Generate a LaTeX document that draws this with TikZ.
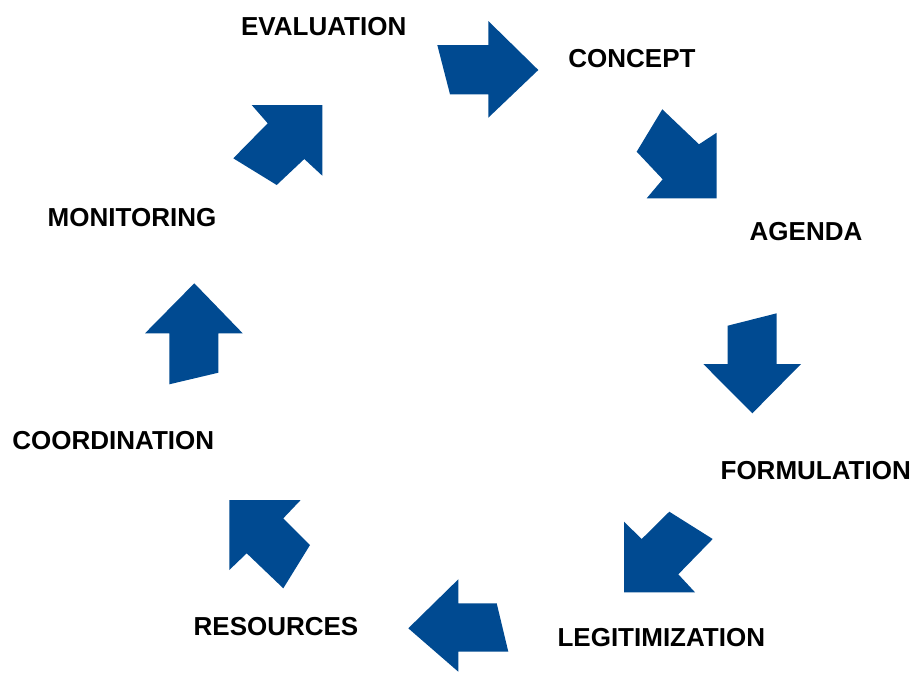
\documentclass[tikz,border=0pt]{standalone}
\usepackage{fontspec}
\setmainfont{Liberation Sans}
\definecolor{cycleblue}{RGB}{0,74,145}
\begin{document}
\begin{tikzpicture}[x=1pt,y=-1pt,
  stage/.style={font=\fontsize{26}{30}\selectfont\bfseries, text=black, inner sep=0pt, anchor=base},
  bigarrow/.style={fill=cycleblue, draw=none}]
\useasboundingbox (0,0) rectangle (916,673);

% stage labels
\node[stage] (evaluation) at (323.7,35.7) {EVALUATION};
\node[stage] (concept) at (632,67) {CONCEPT};
\node[stage] (agenda) at (806,240) {AGENDA};
\node[stage] (formulation) at (815.7,479.3) {FORMULATION};
\node[stage] (legitimization) at (661.3,646.7) {LEGITIMIZATION};
\node[stage] (resources) at (276,635) {RESOURCES};
\node[stage] (coordination) at (113.3,449.3) {COORDINATION};
\node[stage] (monitoring) at (132,226) {MONITORING};

% block arrows around the cycle
\fill[bigarrow] (437.3,45) -- (488.3,45) -- (488.3,21) -- (538.3,70) -- (488.3,117.7)
  -- (488.3,94.3) -- (450,94.3) -- cycle;
\fill[bigarrow] (662.3,109.3) -- (699,144.3) -- (716.7,132.7) -- (716.7,198.3)
  -- (646.7,198.3) -- (662.7,179.3) -- (636.7,151.7) -- cycle;
\fill[bigarrow] (727.7,325.7) -- (776.7,313.3) -- (776.7,364) -- (801,364)
  -- (752.3,413.3) -- (703.3,364) -- (727.7,364) -- cycle;
\fill[bigarrow] (624,521.7) -- (641.7,539) -- (669.3,511.7) -- (712.7,539)
  -- (678.3,574.3) -- (695,592.3) -- (624,592.3) -- cycle;
\fill[bigarrow] (408.3,628.3) -- (458.3,579.3) -- (458.3,603.3) -- (496.7,603.3)
  -- (508.3,651.7) -- (458.3,651.7) -- (458.3,671.7) -- cycle;
\fill[bigarrow] (229.3,500) -- (300.7,500) -- (283.3,518.3) -- (310,545)
  -- (283.3,588.3) -- (246.7,553.3) -- (229.3,570) -- cycle;
\fill[bigarrow] (194.3,283.3) -- (242.7,333.3) -- (218.3,333.3) -- (218.3,372.7)
  -- (169.3,384.3) -- (169.3,333.3) -- (145,333.3) -- cycle;
\fill[bigarrow] (251.7,105) -- (322.3,105) -- (322.3,175.7) -- (304.3,159)
  -- (276.7,185) -- (233.3,158.3) -- (267.7,123.3) -- cycle;
\end{tikzpicture}
\end{document}
